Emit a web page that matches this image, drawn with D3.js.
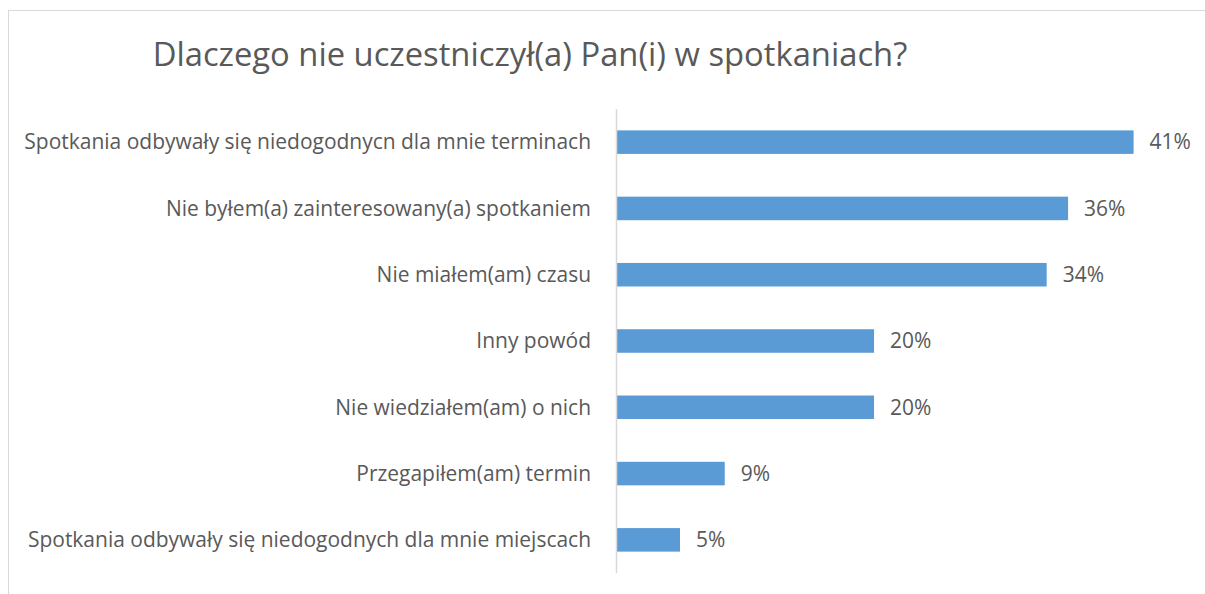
<!DOCTYPE html>
<html>
<head>
<meta charset="utf-8">
<script src="https://cdn.jsdelivr.net/npm/d3@7"></script>
<style>
  body { margin: 0; background: #fff; }
  svg { display: block; }
</style>
</head>
<body>
<svg id="chart" width="1205" height="594"></svg>
<script>
/* survey answers, top to bottom as in the picture */
const title = "Dlaczego nie uczestniczył(a) Pan(i) w spotkaniach?";
const categories = [
    "Spotkania odbywały się niedogodnycn dla mnie terminach",
    "Nie byłem(a) zainteresowany(a) spotkaniem",
    "Nie miałem(am) czasu",
    "Inny powód",
    "Nie wiedziałem(am) o nich",
    "Przegapiłem(am) termin",
    "Spotkania odbywały się niedogodnych dla mnie miejscach"
];
const values = [0.41, 0.358, 0.341, 0.204, 0.204, 0.0855, 0.05];

const width = 1205;
const height = 594;
const textColor = "#595959";
const font = "'Open Sans', 'Noto Sans', sans-serif";

const svg = d3.select("#chart");

// chart border (only the left and top edges are in view)
svg.append("rect")
    .attr("x", 8.5)
    .attr("y", 10.5)
    .attr("width", 1400)
    .attr("height", 800)
    .attr("fill", "none")
    .attr("stroke", "#d9d9d9");

const x = d3.scaleLinear()
    .domain([0, 0.45])
    .range([617, 1184]);

const y = d3.scaleBand()
    .domain(categories)
    .range([109, 573])
    .paddingInner(0.645)
    .paddingOuter(0.3225);

svg.append("g")
    .selectAll("rect")
    .data(values)
    .join("rect")
    .attr("x", x(0))
    .attr("y", (d, i) => y(categories[i]))
    .attr("width", d => x(d) - x(0))
    .attr("height", y.bandwidth())
    .attr("fill", "#5b9bd5");

// vertical axis line
svg.append("line")
    .attr("x1", 616.5)
    .attr("x2", 616.5)
    .attr("y1", y.range()[0])
    .attr("y2", y.range()[1])
    .attr("stroke", "#d9d9d9")
    .attr("stroke-width", 1.5);

const labels = svg.append("g")
    .attr("font-family", font)
    .attr("fill", textColor)
    .selectAll("text")
    .data(categories)
    .join("text")
    .attr("x", 591)
    .attr("y", d => y(d) + y.bandwidth() / 2)
    .attr("dy", "0.35em")
    .attr("text-anchor", "end")
    .attr("font-size", 17)
    .text(d => d);

// fit the longest label to the width it has in the reference
const longest = d3.max(labels.nodes(), n => n.getComputedTextLength());
const labelSize = 17 * 567 / longest;
labels.attr("font-size", labelSize);

svg.append("g")
    .attr("font-family", font)
    .attr("fill", textColor)
    .attr("font-size", labelSize)
    .selectAll("text")
    .data(values)
    .join("text")
    .attr("x", d => x(d) + 16)
    .attr("y", (d, i) => y(categories[i]) + y.bandwidth() / 2)
    .attr("dy", "0.35em")
    .text(d3.format(".0%"));

const titleText = svg.append("text")
    .attr("x", 530)
    .attr("y", 55)
    .attr("dy", "0.35em")
    .attr("text-anchor", "middle")
    .attr("font-family", font)
    .attr("fill", textColor)
    .attr("font-size", 30)
    .text(title);
const tw = titleText.node().getComputedTextLength();
titleText.attr("font-size", 30 * 755 / tw);
</script>
</body>
</html>
